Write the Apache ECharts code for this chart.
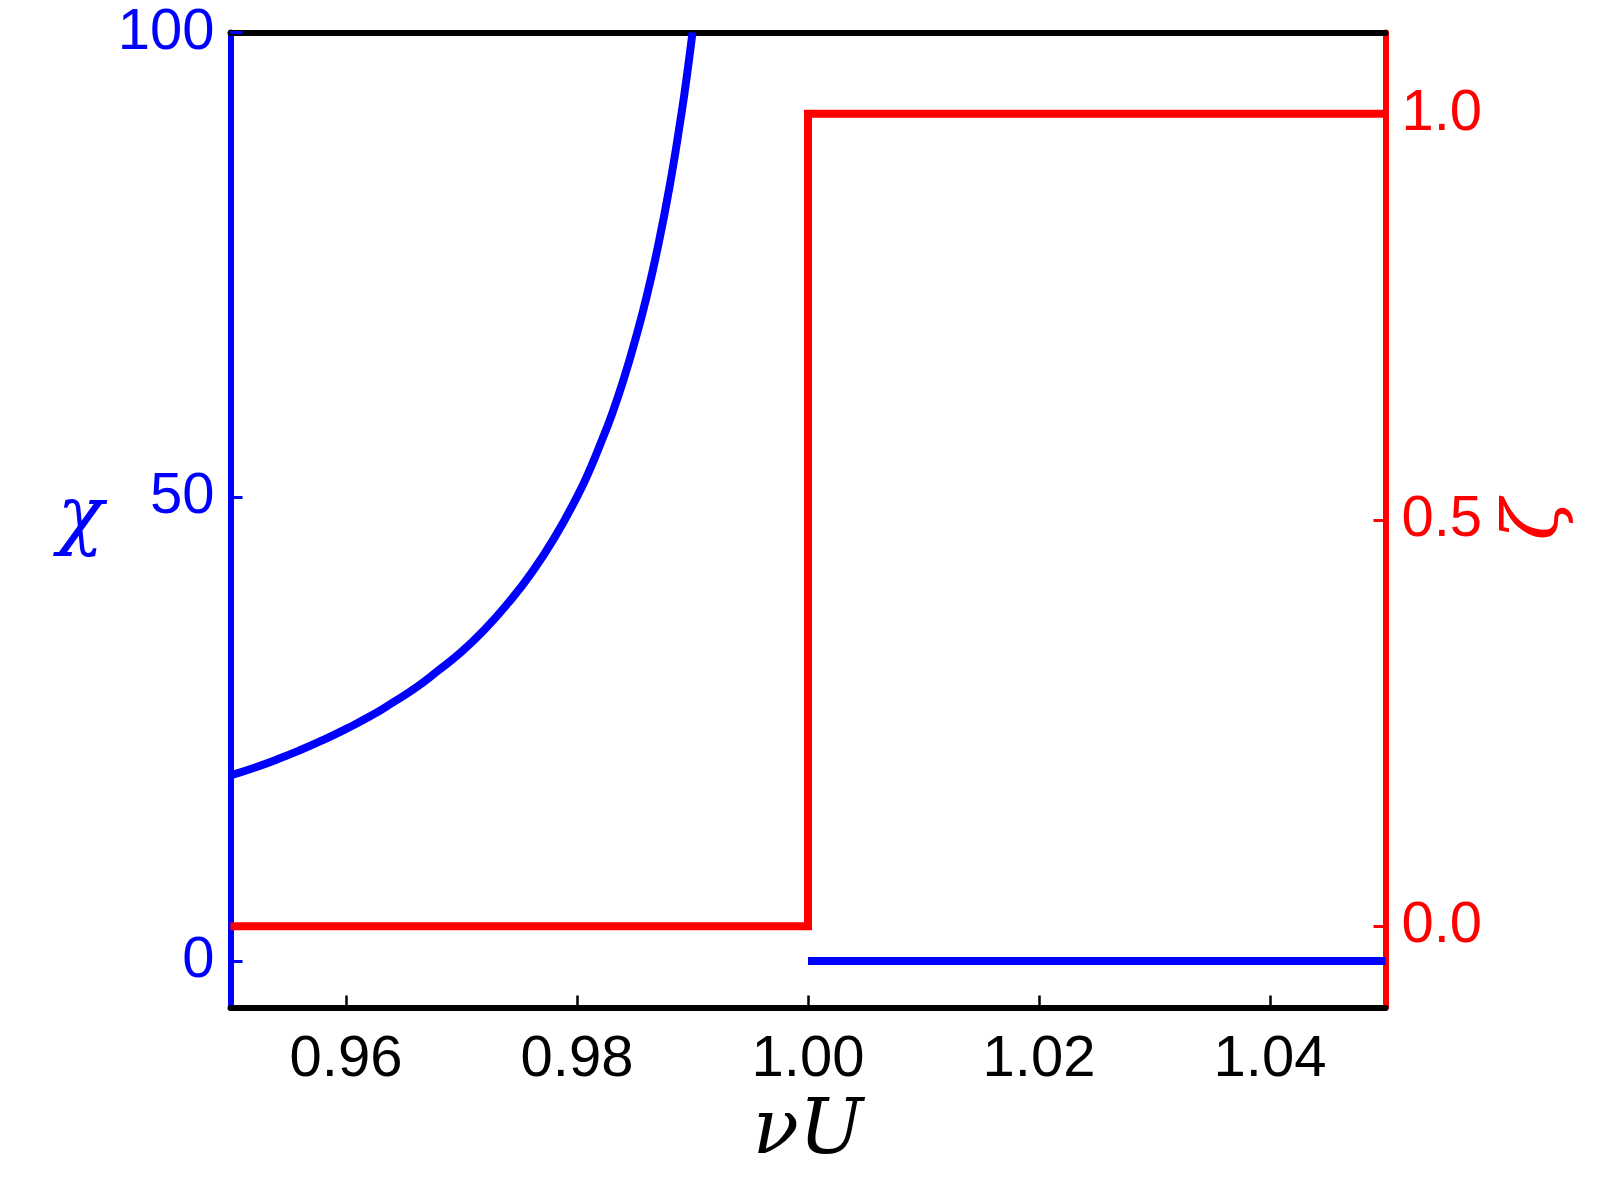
<!DOCTYPE html>
<html>
<head>
<meta charset="utf-8">
<script src="https://cdn.jsdelivr.net/npm/echarts@6/dist/echarts.min.js"></script>
<style>
html,body{margin:0;padding:0;background:#fff;}
#chart{width:1600px;height:1200px;}
</style>
</head>
<body>
<div id="chart"></div>
<script>
// x ticks (nu U)
const xTicks = [0.96, 0.98, 1.00, 1.02, 1.04];
const chiTicks = [0, 50, 100];
const zetaTicks = [0.0, 0.5, 1.0];

// chi (blue) – diverging branch below nu U = 1
const chiX = [0.950, 0.952, 0.954, 0.956, 0.958, 0.960, 0.962, 0.964, 0.966, 0.968, 0.970,
              0.972, 0.974, 0.976, 0.978, 0.980, 0.981, 0.982, 0.983, 0.984, 0.985, 0.986,
              0.987, 0.988, 0.989, 0.9895, 0.990];
const chiY = [20.0, 20.8, 21.7, 22.7, 23.8, 25.0, 26.3, 27.8, 29.4, 31.3, 33.3,
              35.7, 38.5, 41.7, 45.5, 50.0, 52.6, 55.6, 58.8, 62.5, 66.7, 71.4,
              76.9, 83.3, 90.9, 95.2, 100];
// chi (blue) – flat branch above nu U = 1
const chiFlatX = [1.00, 1.05];
const chiFlatY = [0, 0];

// zeta (red) step
const zetaX = [0.95, 1.00, 1.00, 1.05];
const zetaY = [0, 0, 1, 1];

const zip = (a, b) => a.map((v, i) => [v, b[i]]);

const chart = echarts.init(document.getElementById('chart'));
const labelFont = 'Liberation Sans, Arial, sans-serif';
const nameFont = 'DejaVu Serif, Liberation Serif, serif';

chart.setOption({
  animation: false,
  backgroundColor: '#fff',
  grid: { left: 230.5, right: 214.5, top: 32.5, bottom: 192.5, containLabel: false },
  xAxis: [{
    type: 'value', min: 0.95, max: 1.05, position: 'bottom',
    name: 'νU', nameLocation: 'middle', nameGap: 126,
    nameTextStyle: { fontFamily: nameFont, fontStyle: 'italic', fontSize: 76, color: '#000', align: 'center', verticalAlign: 'middle' },
    axisLine: { show: true, onZero: false, lineStyle: { color: '#000', width: 6 } },
    axisTick: { show: true, inside: true, length: 12, lineStyle: { color: '#000', width: 2.5 }, customValues: xTicks },
    axisLabel: { show: true, margin: 23, fontFamily: labelFont, fontSize: 58, color: '#000', customValues: xTicks,
      formatter: v => v.toFixed(2) },
    splitLine: { show: false }
  }, {
    type: 'value', min: 0.95, max: 1.05, position: 'top',
    axisLine: { show: true, onZero: false, lineStyle: { color: '#000', width: 6 } },
    axisTick: { show: false }, axisLabel: { show: false }, splitLine: { show: false }
  }],
  yAxis: [{
    type: 'value', min: -5, max: 100, position: 'left',
    name: 'χ', nameLocation: 'middle', nameGap: 150, nameRotate: 0,
    nameTextStyle: { fontFamily: nameFont, fontStyle: 'italic', fontSize: 76, color: '#0000ff', align: 'center', verticalAlign: 'middle' },
    axisLine: { show: true, onZero: false, lineStyle: { color: '#0000ff', width: 6 } },
    axisTick: { show: true, inside: true, length: 12, lineStyle: { color: '#0000ff', width: 3 }, customValues: chiTicks },
    axisLabel: { show: true, margin: 16, fontFamily: labelFont, fontSize: 58, color: '#0000ff', customValues: chiTicks,
      formatter: v => String(v) },
    splitLine: { show: false }
  }, {
    type: 'value', min: -0.1, max: 1.1, position: 'right',
    name: 'ζ', nameLocation: 'middle', nameGap: 152, nameRotate: 90,
    nameTextStyle: { fontFamily: nameFont, fontStyle: 'italic', fontSize: 76, color: '#ff0000', align: 'center', verticalAlign: 'middle' },
    axisLine: { show: true, onZero: false, lineStyle: { color: '#ff0000', width: 6 } },
    axisTick: { show: true, inside: true, length: 12, lineStyle: { color: '#ff0000', width: 3 }, customValues: zetaTicks },
    axisLabel: { show: true, margin: 16, fontFamily: labelFont, fontSize: 58, color: '#ff0000', customValues: zetaTicks,
      formatter: v => v.toFixed(1) },
    splitLine: { show: false }
  }],
  series: [{
    type: 'line', xAxisIndex: 0, yAxisIndex: 0, data: zip(chiX, chiY),
    smooth: 0.5, showSymbol: false, clip: true,
    lineStyle: { color: '#0000ff', width: 8 }
  }, {
    type: 'line', xAxisIndex: 0, yAxisIndex: 0, data: zip(chiFlatX, chiFlatY),
    showSymbol: false, clip: true,
    lineStyle: { color: '#0000ff', width: 8, cap: 'butt' }
  }, {
    type: 'line', xAxisIndex: 0, yAxisIndex: 1, data: zip(zetaX, zetaY),
    showSymbol: false, clip: true,
    lineStyle: { color: '#ff0000', width: 8, join: 'miter', cap: 'butt' }
  }]
});
</script>
</body>
</html>
